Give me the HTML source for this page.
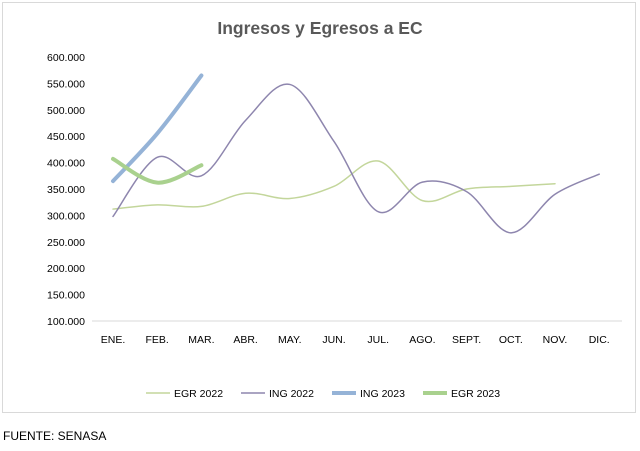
<!DOCTYPE html>
<html><head><meta charset="utf-8"><style>
body{margin:0;background:#fff;width:640px;height:446px;overflow:hidden;font-family:"Liberation Sans",Arial,sans-serif}
</style></head><body>
<svg id="s" width="640" height="446" xmlns="http://www.w3.org/2000/svg" font-family="Liberation Sans, Arial, sans-serif">
<rect x="2.5" y="2.5" width="633" height="410" fill="#fff" stroke="#d9d9d9"/>
<text x="320" y="34" text-anchor="middle" font-size="17.5" font-weight="bold" fill="#595959">Ingresos y Egresos a EC</text>
<line x1="92" y1="321" x2="622" y2="321" stroke="#d9d9d9"/>
<g id="yl" font-size="10.5" fill="#000" text-anchor="end"></g>
<g id="xl" font-size="10.5" fill="#000" text-anchor="middle"></g>
<g id="lines" fill="none"></g>
<g font-size="10.5" fill="#000">
<line x1="146" y1="393" x2="170" y2="393" stroke="#c3d69b" stroke-width="1.5"/><text x="174" y="397">EGR 2022</text>
<line x1="241" y1="393" x2="265" y2="393" stroke="#8e86ae" stroke-width="1.5"/><text x="269" y="397">ING 2022</text>
<line x1="332" y1="393" x2="356" y2="393" stroke="#95b3d7" stroke-width="4"/><text x="360" y="397">ING 2023</text>
<line x1="423" y1="393" x2="447" y2="393" stroke="#a9d18e" stroke-width="4"/><text x="451" y="397">EGR 2023</text>
</g>
<text x="3" y="440" font-size="12" fill="#000">FUENTE: SENASA</text>
</svg>
<script>
var ns="http://www.w3.org/2000/svg";
function Y(v){return 321-(v-100000)/50000*26.4;}
function X(i){return 113+i*44.2;}
var yl=document.getElementById('yl');
for(var v=100000;v<=600000;v+=50000){var t=document.createElementNS(ns,'text');t.setAttribute('x',85);t.setAttribute('y',Y(v)+4);t.textContent=(v/1000)+'.000';yl.appendChild(t);}
var m=['ENE.','FEB.','MAR.','ABR.','MAY.','JUN.','JUL.','AGO.','SEPT.','OCT.','NOV.','DIC.'];
var xl=document.getElementById('xl');
m.forEach(function(s,i){var t=document.createElementNS(ns,'text');t.setAttribute('x',X(i));t.setAttribute('y',343);t.textContent=s;xl.appendChild(t);});
function path(d){var p=d.map(function(v,i){return [X(i),Y(v)]});var s='M'+p[0];
for(var i=0;i<p.length-1;i++){var p0=p[i-1]||p[i],p1=p[i],p2=p[i+1],p3=p[i+2]||p2;
var c1=[p1[0]+(p2[0]-p0[0])/6,p1[1]+(p2[1]-p0[1])/6],c2=[p2[0]-(p3[0]-p1[0])/6,p2[1]-(p3[1]-p1[1])/6];
s+=' C'+c1+' '+c2+' '+p2;}return s;}
var L=document.getElementById('lines');
[[[312000,320000,317000,342000,332000,355000,403000,328000,350000,355000,360000],'#c3d69b',1.5],
[[298000,410000,375000,480000,548000,440000,307000,363000,345000,267000,340000,378000],'#8e86ae',1.5],
[[365000,455000,565000],'#95b3d7',4],
[[407000,362000,395000],'#a9d18e',4]].forEach(function(a){var e=document.createElementNS(ns,'path');e.setAttribute('d',path(a[0]));e.setAttribute('stroke',a[1]);e.setAttribute('stroke-width',a[2]);e.setAttribute('stroke-linecap','round');L.appendChild(e);});
</script>
</body></html>
